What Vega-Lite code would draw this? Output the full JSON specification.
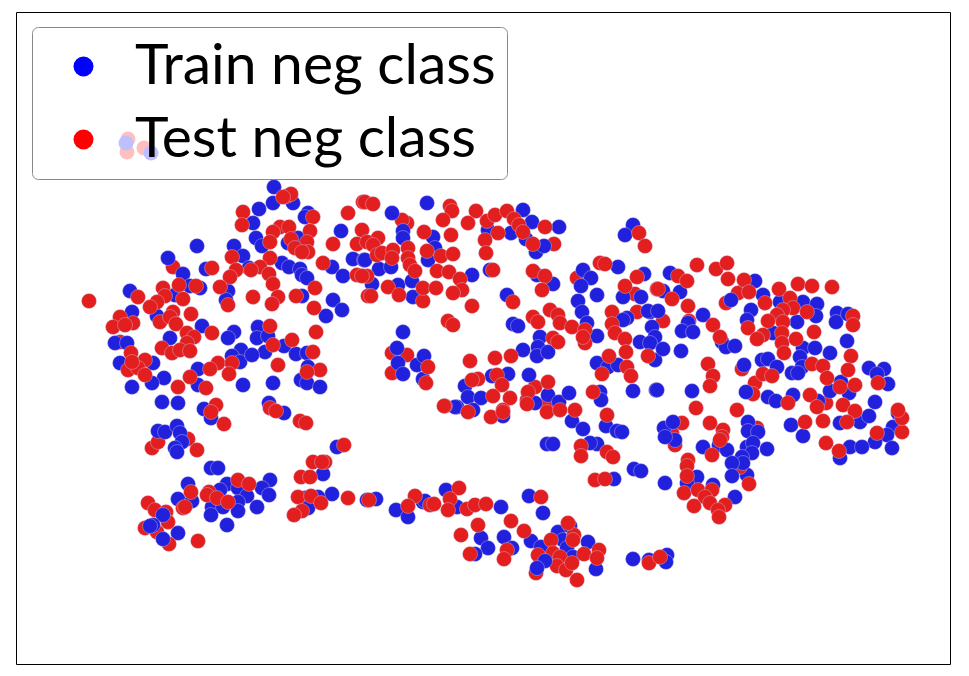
{"$schema":"https://vega.github.io/schema/vega-lite/v6.json","width":934,"height":652,"padding":{"left":16,"top":12,"right":19,"bottom":12},"autosize":"none","background":"white","view":{"stroke":"#000000","strokeWidth":1,"fill":"white"},"datasets":{"pts":[
{"x":173,"y":267,"c":"Test"},{"x":120,"y":342,"c":"Test"},{"x":663,"y":321,"c":"Test"},{"x":689,"y":321,"c":"Test"},{"x":738,"y":293,"c":"Test"},{"x":726,"y":303,"c":"Test"},{"x":742,"y":369,"c":"Test"},{"x":755,"y":383,"c":"Test"},{"x":753,"y":394,"c":"Test"},{"x":826,"y":403,"c":"Test"},{"x":672,"y":433,"c":"Test"},{"x":675,"y":445,"c":"Test"},{"x":682,"y":423,"c":"Test"},{"x":757,"y":428,"c":"Test"},{"x":723,"y":430,"c":"Test"},{"x":722,"y":437,"c":"Test"},{"x":392,"y":353,"c":"Test"},{"x":392,"y":373,"c":"Test"},{"x":407,"y":355,"c":"Test"},{"x":535,"y":387,"c":"Test"},{"x":527,"y":400,"c":"Test"},{"x":547,"y":403,"c":"Test"},{"x":407,"y":223,"c":"Test"},{"x":402,"y":220,"c":"Test"},{"x":554,"y":244,"c":"Test"},{"x":577,"y":278,"c":"Test"},{"x":635,"y":294,"c":"Test"},{"x":637,"y":312,"c":"Test"},{"x":612,"y":312,"c":"Test"},{"x":128,"y":139,"c":"Test"},{"x":127,"y":152,"c":"Test"},{"x":144,"y":148,"c":"Test"},{"x":126,"y":143,"c":"Train"},{"x":151,"y":153,"c":"Train"},
{"x":274,"y":187,"c":"Train"},{"x":273,"y":203,"c":"Train"},{"x":293,"y":203,"c":"Train"},{"x":259,"y":209,"c":"Train"},{"x":308,"y":213,"c":"Train"},{"x":305,"y":217,"c":"Train"},{"x":253,"y":223,"c":"Train"},{"x":341,"y":231,"c":"Train"},{"x":256,"y":238,"c":"Train"},{"x":262,"y":246,"c":"Train"},{"x":288,"y":243,"c":"Train"},{"x":298,"y":238,"c":"Train"},{"x":197,"y":246,"c":"Train"},{"x":234,"y":246,"c":"Train"},{"x":243,"y":256,"c":"Train"},{"x":168,"y":258,"c":"Train"},{"x":353,"y":259,"c":"Train"},{"x":364,"y":260,"c":"Train"},{"x":249,"y":268,"c":"Train"},{"x":282,"y":263,"c":"Train"},{"x":289,"y":267,"c":"Train"},{"x":300,"y":269,"c":"Train"},{"x":302,"y":275,"c":"Train"},{"x":307,"y":278,"c":"Train"},{"x":332,"y":267,"c":"Train"},{"x":343,"y":276,"c":"Train"},{"x":183,"y":274,"c":"Train"},{"x":190,"y":286,"c":"Train"},{"x":200,"y":288,"c":"Train"},{"x":206,"y":269,"c":"Train"},{"x":228,"y":291,"c":"Train"},{"x":226,"y":300,"c":"Train"},{"x":130,"y":291,"c":"Train"},{"x":175,"y":295,"c":"Train"},{"x":302,"y":296,"c":"Train"},{"x":333,"y":300,"c":"Train"},{"x":342,"y":310,"c":"Train"},{"x":326,"y":316,"c":"Train"},{"x":132,"y":312,"c":"Train"},{"x":157,"y":316,"c":"Train"},{"x":202,"y":326,"c":"Train"},{"x":170,"y":338,"c":"Train"},{"x":115,"y":343,"c":"Train"},{"x":127,"y":343,"c":"Train"},{"x":234,"y":332,"c":"Train"},{"x":228,"y":338,"c":"Train"},{"x":258,"y":327,"c":"Train"},{"x":257,"y":338,"c":"Train"},{"x":268,"y":336,"c":"Train"},{"x":265,"y":352,"c":"Train"},{"x":241,"y":350,"c":"Train"},{"x":232,"y":356,"c":"Train"},{"x":240,"y":362,"c":"Train"},{"x":252,"y":355,"c":"Train"},{"x":284,"y":346,"c":"Train"},{"x":296,"y":354,"c":"Train"},{"x":307,"y":353,"c":"Train"},{"x":120,"y":363,"c":"Train"},{"x":153,"y":363,"c":"Train"},{"x":198,"y":369,"c":"Train"},{"x":164,"y":378,"c":"Train"},{"x":152,"y":383,"c":"Train"},{"x":132,"y":387,"c":"Train"},{"x":198,"y":385,"c":"Train"},{"x":243,"y":385,"c":"Train"},{"x":273,"y":383,"c":"Train"},{"x":301,"y":380,"c":"Train"},{"x":307,"y":383,"c":"Train"},{"x":320,"y":387,"c":"Train"},{"x":308,"y":367,"c":"Train"},
{"x":162,"y":402,"c":"Train"},{"x":178,"y":403,"c":"Train"},{"x":204,"y":409,"c":"Train"},{"x":211,"y":418,"c":"Train"},{"x":269,"y":403,"c":"Train"},{"x":284,"y":413,"c":"Train"},{"x":337,"y":447,"c":"Train"},{"x":211,"y":468,"c":"Train"},{"x":218,"y":468,"c":"Train"},{"x":188,"y":484,"c":"Train"},{"x":178,"y":499,"c":"Train"},{"x":192,"y":501,"c":"Train"},{"x":227,"y":484,"c":"Train"},{"x":238,"y":488,"c":"Train"},{"x":270,"y":480,"c":"Train"},{"x":262,"y":488,"c":"Train"},{"x":269,"y":495,"c":"Train"},{"x":247,"y":496,"c":"Train"},{"x":238,"y":502,"c":"Train"},{"x":220,"y":490,"c":"Train"},{"x":212,"y":507,"c":"Train"},{"x":223,"y":507,"c":"Train"},{"x":238,"y":511,"c":"Train"},{"x":257,"y":507,"c":"Train"},{"x":211,"y":515,"c":"Train"},{"x":227,"y":525,"c":"Train"},{"x":323,"y":474,"c":"Train"},{"x":332,"y":494,"c":"Train"},{"x":305,"y":498,"c":"Train"},{"x":318,"y":497,"c":"Train"},{"x":308,"y":508,"c":"Train"},{"x":376,"y":499,"c":"Train"},{"x":367,"y":500,"c":"Train"},{"x":396,"y":510,"c":"Train"},{"x":408,"y":517,"c":"Train"},{"x":423,"y":502,"c":"Train"},{"x":178,"y":533,"c":"Train"},
{"x":427,"y":203,"c":"Train"},{"x":392,"y":213,"c":"Train"},{"x":403,"y":231,"c":"Train"},{"x":403,"y":238,"c":"Train"},{"x":433,"y":237,"c":"Train"},{"x":488,"y":230,"c":"Train"},{"x":511,"y":233,"c":"Train"},{"x":523,"y":210,"c":"Train"},{"x":532,"y":222,"c":"Train"},{"x":559,"y":227,"c":"Train"},{"x":526,"y":239,"c":"Train"},{"x":536,"y":252,"c":"Train"},{"x":544,"y":246,"c":"Train"},{"x":633,"y":225,"c":"Train"},{"x":625,"y":235,"c":"Train"},{"x":435,"y":248,"c":"Train"},{"x":428,"y":260,"c":"Train"},{"x":365,"y":260,"c":"Train"},{"x":379,"y":269,"c":"Train"},{"x":391,"y":267,"c":"Train"},{"x":372,"y":284,"c":"Train"},{"x":398,"y":285,"c":"Train"},{"x":412,"y":281,"c":"Train"},{"x":413,"y":297,"c":"Train"},{"x":472,"y":275,"c":"Train"},{"x":490,"y":270,"c":"Train"},{"x":537,"y":275,"c":"Train"},{"x":553,"y":284,"c":"Train"},{"x":583,"y":270,"c":"Train"},{"x":591,"y":278,"c":"Train"},{"x":581,"y":286,"c":"Train"},{"x":597,"y":295,"c":"Train"},{"x":578,"y":301,"c":"Train"},{"x":618,"y":267,"c":"Train"},{"x":644,"y":274,"c":"Train"},{"x":623,"y":297,"c":"Train"},{"x":641,"y":297,"c":"Train"},{"x":582,"y":312,"c":"Train"},{"x":587,"y":323,"c":"Train"},{"x":597,"y":336,"c":"Train"},{"x":627,"y":318,"c":"Train"},{"x":623,"y":320,"c":"Train"},{"x":650,"y":312,"c":"Train"},{"x":652,"y":327,"c":"Train"},{"x":655,"y":337,"c":"Train"},{"x":640,"y":342,"c":"Train"},{"x":650,"y":343,"c":"Train"},{"x":655,"y":360,"c":"Train"},{"x":540,"y":337,"c":"Train"},{"x":538,"y":347,"c":"Train"},{"x":523,"y":350,"c":"Train"},{"x":537,"y":356,"c":"Train"},{"x":548,"y":352,"c":"Train"},{"x":507,"y":295,"c":"Train"},{"x":513,"y":324,"c":"Train"},{"x":518,"y":326,"c":"Train"},{"x":403,"y":332,"c":"Train"},{"x":397,"y":348,"c":"Train"},{"x":398,"y":363,"c":"Train"},{"x":417,"y":365,"c":"Train"},{"x":424,"y":356,"c":"Train"},{"x":403,"y":374,"c":"Train"},{"x":423,"y":379,"c":"Train"},{"x":492,"y":376,"c":"Train"},{"x":508,"y":374,"c":"Train"},{"x":529,"y":375,"c":"Train"},{"x":465,"y":386,"c":"Train"},{"x":468,"y":397,"c":"Train"},{"x":481,"y":398,"c":"Train"},{"x":457,"y":407,"c":"Train"},{"x":473,"y":410,"c":"Train"},{"x":535,"y":403,"c":"Train"},{"x":548,"y":395,"c":"Train"},{"x":559,"y":402,"c":"Train"},{"x":569,"y":393,"c":"Train"},{"x":597,"y":363,"c":"Train"},{"x":608,"y":367,"c":"Train"},{"x":618,"y":365,"c":"Train"},{"x":600,"y":392,"c":"Train"},{"x":601,"y":400,"c":"Train"},{"x":633,"y":391,"c":"Train"},{"x":656,"y":390,"c":"Train"},
{"x":670,"y":273,"c":"Train"},{"x":663,"y":291,"c":"Train"},{"x":680,"y":292,"c":"Train"},{"x":648,"y":311,"c":"Train"},{"x":658,"y":311,"c":"Train"},{"x":663,"y":349,"c":"Train"},{"x":681,"y":351,"c":"Train"},{"x":703,"y":315,"c":"Train"},{"x":688,"y":323,"c":"Train"},{"x":682,"y":331,"c":"Train"},{"x":693,"y":332,"c":"Train"},{"x":755,"y":281,"c":"Train"},{"x":763,"y":295,"c":"Train"},{"x":731,"y":300,"c":"Train"},{"x":751,"y":310,"c":"Train"},{"x":747,"y":320,"c":"Train"},{"x":780,"y":302,"c":"Train"},{"x":803,"y":302,"c":"Train"},{"x":817,"y":304,"c":"Train"},{"x":797,"y":322,"c":"Train"},{"x":816,"y":316,"c":"Train"},{"x":837,"y":313,"c":"Train"},{"x":836,"y":322,"c":"Train"},{"x":848,"y":314,"c":"Train"},{"x":847,"y":341,"c":"Train"},{"x":722,"y":342,"c":"Train"},{"x":726,"y":347,"c":"Train"},{"x":735,"y":346,"c":"Train"},{"x":773,"y":333,"c":"Train"},{"x":803,"y":348,"c":"Train"},{"x":815,"y":348,"c":"Train"},{"x":830,"y":353,"c":"Train"},{"x":800,"y":357,"c":"Train"},{"x":762,"y":360,"c":"Train"},{"x":768,"y":359,"c":"Train"},{"x":777,"y":367,"c":"Train"},{"x":744,"y":365,"c":"Train"},{"x":802,"y":367,"c":"Train"},{"x":792,"y":373,"c":"Train"},{"x":798,"y":373,"c":"Train"},{"x":869,"y":368,"c":"Train"},{"x":884,"y":369,"c":"Train"},{"x":877,"y":374,"c":"Train"},{"x":888,"y":384,"c":"Train"},{"x":841,"y":382,"c":"Train"},{"x":830,"y":391,"c":"Train"},{"x":818,"y":401,"c":"Train"},{"x":849,"y":393,"c":"Train"},{"x":746,"y":392,"c":"Train"},{"x":768,"y":397,"c":"Train"},{"x":776,"y":401,"c":"Train"},{"x":793,"y":395,"c":"Train"},{"x":875,"y":402,"c":"Train"},{"x":657,"y":390,"c":"Train"},{"x":692,"y":391,"c":"Train"},{"x":791,"y":425,"c":"Train"},{"x":803,"y":436,"c":"Train"},{"x":840,"y":423,"c":"Train"},{"x":860,"y":422,"c":"Train"},{"x":869,"y":416,"c":"Train"},{"x":898,"y":413,"c":"Train"},{"x":893,"y":427,"c":"Train"},{"x":887,"y":435,"c":"Train"},{"x":875,"y":442,"c":"Train"},{"x":892,"y":448,"c":"Train"},{"x":703,"y":447,"c":"Train"},{"x":719,"y":445,"c":"Train"},{"x":727,"y":450,"c":"Train"},{"x":767,"y":449,"c":"Train"},{"x":850,"y":447,"c":"Train"},{"x":862,"y":447,"c":"Train"},{"x":840,"y":458,"c":"Train"},
{"x":455,"y":407,"c":"Train"},{"x":503,"y":416,"c":"Train"},{"x":572,"y":421,"c":"Train"},{"x":583,"y":429,"c":"Train"},{"x":606,"y":426,"c":"Train"},{"x":617,"y":431,"c":"Train"},{"x":622,"y":432,"c":"Train"},{"x":547,"y":444,"c":"Train"},{"x":553,"y":444,"c":"Train"},{"x":597,"y":444,"c":"Train"},{"x":590,"y":443,"c":"Train"},{"x":634,"y":469,"c":"Train"},{"x":641,"y":471,"c":"Train"},{"x":614,"y":479,"c":"Train"},{"x":665,"y":483,"c":"Train"},{"x":747,"y":475,"c":"Train"},{"x":735,"y":497,"c":"Train"},{"x":697,"y":477,"c":"Train"},{"x":687,"y":483,"c":"Train"},{"x":713,"y":485,"c":"Train"},{"x":529,"y":496,"c":"Train"},{"x":501,"y":507,"c":"Train"},{"x":543,"y":513,"c":"Train"},{"x":446,"y":490,"c":"Train"},{"x":425,"y":501,"c":"Train"},{"x":457,"y":507,"c":"Train"},{"x":481,"y":538,"c":"Train"},{"x":488,"y":548,"c":"Train"},{"x":504,"y":537,"c":"Train"},{"x":512,"y":548,"c":"Train"},{"x":475,"y":554,"c":"Train"},{"x":531,"y":541,"c":"Train"},{"x":541,"y":547,"c":"Train"},{"x":558,"y":532,"c":"Train"},{"x":570,"y":526,"c":"Train"},{"x":563,"y":540,"c":"Train"},{"x":567,"y":548,"c":"Train"},{"x":588,"y":542,"c":"Train"},{"x":573,"y":557,"c":"Train"},{"x":596,"y":569,"c":"Train"},{"x":633,"y":559,"c":"Train"},{"x":649,"y":560,"c":"Train"},{"x":667,"y":555,"c":"Train"},{"x":666,"y":562,"c":"Train"},
{"x":89,"y":301,"c":"Test"},{"x":287,"y":196,"c":"Test"},{"x":291,"y":194,"c":"Test"},{"x":283,"y":197,"c":"Test"},{"x":243,"y":212,"c":"Test"},{"x":242,"y":225,"c":"Test"},{"x":363,"y":202,"c":"Test"},{"x":348,"y":213,"c":"Test"},{"x":313,"y":217,"c":"Test"},{"x":280,"y":227,"c":"Test"},{"x":289,"y":227,"c":"Test"},{"x":273,"y":232,"c":"Test"},{"x":310,"y":231,"c":"Test"},{"x":270,"y":242,"c":"Test"},{"x":291,"y":239,"c":"Test"},{"x":307,"y":242,"c":"Test"},{"x":295,"y":248,"c":"Test"},{"x":308,"y":252,"c":"Test"},{"x":302,"y":252,"c":"Test"},{"x":333,"y":244,"c":"Test"},{"x":362,"y":230,"c":"Test"},{"x":357,"y":244,"c":"Test"},{"x":270,"y":258,"c":"Test"},{"x":232,"y":257,"c":"Test"},{"x":260,"y":267,"c":"Test"},{"x":212,"y":268,"c":"Test"},{"x":236,"y":270,"c":"Test"},{"x":230,"y":277,"c":"Test"},{"x":251,"y":270,"c":"Test"},{"x":269,"y":274,"c":"Test"},{"x":273,"y":284,"c":"Test"},{"x":323,"y":263,"c":"Test"},{"x":357,"y":275,"c":"Test"},{"x":367,"y":276,"c":"Test"},{"x":179,"y":285,"c":"Test"},{"x":196,"y":286,"c":"Test"},{"x":220,"y":287,"c":"Test"},{"x":315,"y":288,"c":"Test"},{"x":163,"y":288,"c":"Test"},{"x":138,"y":297,"c":"Test"},{"x":183,"y":299,"c":"Test"},{"x":165,"y":296,"c":"Test"},{"x":157,"y":302,"c":"Test"},{"x":150,"y":307,"c":"Test"},{"x":253,"y":297,"c":"Test"},{"x":278,"y":297,"c":"Test"},{"x":272,"y":304,"c":"Test"},{"x":296,"y":296,"c":"Test"},{"x":228,"y":305,"c":"Test"},{"x":314,"y":308,"c":"Test"},{"x":368,"y":296,"c":"Test"},{"x":173,"y":312,"c":"Test"},{"x":191,"y":314,"c":"Test"},{"x":120,"y":317,"c":"Test"},{"x":133,"y":323,"c":"Test"},{"x":113,"y":327,"c":"Test"},{"x":125,"y":325,"c":"Test"},{"x":160,"y":322,"c":"Test"},{"x":170,"y":317,"c":"Test"},{"x":176,"y":324,"c":"Test"},{"x":270,"y":326,"c":"Test"},{"x":187,"y":333,"c":"Test"},{"x":194,"y":337,"c":"Test"},{"x":212,"y":333,"c":"Test"},{"x":316,"y":332,"c":"Test"},{"x":187,"y":343,"c":"Test"},{"x":162,"y":348,"c":"Test"},{"x":172,"y":353,"c":"Test"},{"x":180,"y":350,"c":"Test"},{"x":190,"y":351,"c":"Test"},{"x":292,"y":340,"c":"Test"},{"x":273,"y":345,"c":"Test"},{"x":313,"y":352,"c":"Test"},{"x":131,"y":353,"c":"Test"},{"x":145,"y":360,"c":"Test"},{"x":128,"y":370,"c":"Test"},{"x":138,"y":368,"c":"Test"},{"x":145,"y":375,"c":"Test"},{"x":132,"y":362,"c":"Test"},{"x":278,"y":365,"c":"Test"},{"x":218,"y":363,"c":"Test"},{"x":210,"y":369,"c":"Test"},{"x":232,"y":363,"c":"Test"},{"x":229,"y":374,"c":"Test"},{"x":320,"y":370,"c":"Test"},{"x":307,"y":372,"c":"Test"},{"x":190,"y":377,"c":"Test"},{"x":178,"y":387,"c":"Test"},{"x":206,"y":388,"c":"Test"},
{"x":216,"y":405,"c":"Test"},{"x":211,"y":412,"c":"Test"},{"x":224,"y":424,"c":"Test"},{"x":270,"y":408,"c":"Test"},{"x":276,"y":411,"c":"Test"},{"x":300,"y":421,"c":"Test"},{"x":306,"y":423,"c":"Test"},{"x":188,"y":439,"c":"Test"},{"x":152,"y":448,"c":"Test"},{"x":158,"y":442,"c":"Test"},{"x":197,"y":450,"c":"Test"},{"x":344,"y":445,"c":"Test"},{"x":313,"y":462,"c":"Test"},{"x":325,"y":462,"c":"Test"},{"x":322,"y":462,"c":"Test"},{"x":301,"y":477,"c":"Test"},{"x":310,"y":477,"c":"Test"},{"x":238,"y":480,"c":"Test"},{"x":249,"y":484,"c":"Test"},{"x":191,"y":492,"c":"Test"},{"x":209,"y":492,"c":"Test"},{"x":207,"y":495,"c":"Test"},{"x":217,"y":498,"c":"Test"},{"x":228,"y":502,"c":"Test"},{"x":298,"y":497,"c":"Test"},{"x":311,"y":496,"c":"Test"},{"x":321,"y":503,"c":"Test"},{"x":348,"y":498,"c":"Test"},{"x":369,"y":500,"c":"Test"},{"x":148,"y":503,"c":"Test"},{"x":155,"y":510,"c":"Test"},{"x":166,"y":512,"c":"Test"},{"x":183,"y":508,"c":"Test"},{"x":185,"y":507,"c":"Test"},{"x":168,"y":522,"c":"Test"},{"x":145,"y":528,"c":"Test"},{"x":157,"y":532,"c":"Test"},{"x":169,"y":544,"c":"Test"},{"x":198,"y":541,"c":"Test"},{"x":302,"y":511,"c":"Test"},{"x":294,"y":515,"c":"Test"},{"x":415,"y":496,"c":"Test"},{"x":408,"y":506,"c":"Test"},{"x":430,"y":505,"c":"Test"},
{"x":365,"y":202,"c":"Test"},{"x":373,"y":204,"c":"Test"},{"x":450,"y":206,"c":"Test"},{"x":452,"y":211,"c":"Test"},{"x":443,"y":220,"c":"Test"},{"x":476,"y":211,"c":"Test"},{"x":468,"y":223,"c":"Test"},{"x":424,"y":232,"c":"Test"},{"x":451,"y":235,"c":"Test"},{"x":487,"y":221,"c":"Test"},{"x":495,"y":215,"c":"Test"},{"x":507,"y":211,"c":"Test"},{"x":514,"y":219,"c":"Test"},{"x":519,"y":225,"c":"Test"},{"x":523,"y":232,"c":"Test"},{"x":498,"y":233,"c":"Test"},{"x":545,"y":227,"c":"Test"},{"x":485,"y":240,"c":"Test"},{"x":486,"y":253,"c":"Test"},{"x":533,"y":244,"c":"Test"},{"x":378,"y":238,"c":"Test"},{"x":367,"y":242,"c":"Test"},{"x":373,"y":245,"c":"Test"},{"x":377,"y":255,"c":"Test"},{"x":382,"y":253,"c":"Test"},{"x":393,"y":250,"c":"Test"},{"x":392,"y":258,"c":"Test"},{"x":408,"y":248,"c":"Test"},{"x":408,"y":258,"c":"Test"},{"x":410,"y":265,"c":"Test"},{"x":415,"y":271,"c":"Test"},{"x":427,"y":251,"c":"Test"},{"x":441,"y":256,"c":"Test"},{"x":453,"y":254,"c":"Test"},{"x":437,"y":271,"c":"Test"},{"x":449,"y":272,"c":"Test"},{"x":460,"y":279,"c":"Test"},{"x":462,"y":290,"c":"Test"},{"x":453,"y":293,"c":"Test"},{"x":493,"y":270,"c":"Test"},{"x":533,"y":271,"c":"Test"},{"x":545,"y":276,"c":"Test"},{"x":542,"y":290,"c":"Test"},{"x":362,"y":276,"c":"Test"},{"x":388,"y":287,"c":"Test"},{"x":371,"y":296,"c":"Test"},{"x":399,"y":295,"c":"Test"},{"x":423,"y":301,"c":"Test"},{"x":423,"y":288,"c":"Test"},{"x":436,"y":288,"c":"Test"},{"x":513,"y":302,"c":"Test"},{"x":472,"y":306,"c":"Test"},{"x":448,"y":321,"c":"Test"},{"x":453,"y":325,"c":"Test"},{"x":533,"y":317,"c":"Test"},{"x":538,"y":322,"c":"Test"},{"x":550,"y":310,"c":"Test"},{"x":558,"y":315,"c":"Test"},{"x":560,"y":323,"c":"Test"},{"x":572,"y":327,"c":"Test"},{"x":585,"y":330,"c":"Test"},{"x":585,"y":343,"c":"Test"},{"x":583,"y":337,"c":"Test"},{"x":553,"y":338,"c":"Test"},{"x":558,"y":342,"c":"Test"},{"x":600,"y":263,"c":"Test"},{"x":605,"y":264,"c":"Test"},{"x":639,"y":233,"c":"Test"},{"x":645,"y":246,"c":"Test"},{"x":637,"y":277,"c":"Test"},{"x":625,"y":286,"c":"Test"},{"x":657,"y":289,"c":"Test"},{"x":612,"y":324,"c":"Test"},{"x":615,"y":333,"c":"Test"},{"x":625,"y":339,"c":"Test"},{"x":626,"y":352,"c":"Test"},{"x":609,"y":356,"c":"Test"},{"x":648,"y":356,"c":"Test"},{"x":627,"y":367,"c":"Test"},{"x":631,"y":376,"c":"Test"},{"x":602,"y":374,"c":"Test"},{"x":593,"y":392,"c":"Test"},{"x":511,"y":356,"c":"Test"},{"x":470,"y":361,"c":"Test"},{"x":495,"y":358,"c":"Test"},{"x":497,"y":375,"c":"Test"},{"x":502,"y":385,"c":"Test"},{"x":478,"y":379,"c":"Test"},{"x":472,"y":380,"c":"Test"},{"x":493,"y":396,"c":"Test"},{"x":510,"y":398,"c":"Test"},{"x":428,"y":367,"c":"Test"},{"x":426,"y":383,"c":"Test"},{"x":548,"y":382,"c":"Test"},{"x":528,"y":392,"c":"Test"},{"x":445,"y":406,"c":"Test"},{"x":503,"y":410,"c":"Test"},{"x":575,"y":410,"c":"Test"},
{"x":697,"y":265,"c":"Test"},{"x":716,"y":269,"c":"Test"},{"x":727,"y":263,"c":"Test"},{"x":728,"y":279,"c":"Test"},{"x":678,"y":276,"c":"Test"},{"x":687,"y":281,"c":"Test"},{"x":658,"y":289,"c":"Test"},{"x":672,"y":299,"c":"Test"},{"x":688,"y":306,"c":"Test"},{"x":713,"y":325,"c":"Test"},{"x":720,"y":337,"c":"Test"},{"x":744,"y":280,"c":"Test"},{"x":749,"y":292,"c":"Test"},{"x":765,"y":303,"c":"Test"},{"x":779,"y":289,"c":"Test"},{"x":798,"y":284,"c":"Test"},{"x":812,"y":286,"c":"Test"},{"x":832,"y":287,"c":"Test"},{"x":790,"y":298,"c":"Test"},{"x":793,"y":308,"c":"Test"},{"x":807,"y":312,"c":"Test"},{"x":783,"y":310,"c":"Test"},{"x":777,"y":315,"c":"Test"},{"x":768,"y":321,"c":"Test"},{"x":783,"y":322,"c":"Test"},{"x":748,"y":328,"c":"Test"},{"x":763,"y":335,"c":"Test"},{"x":757,"y":339,"c":"Test"},{"x":782,"y":333,"c":"Test"},{"x":782,"y":343,"c":"Test"},{"x":784,"y":353,"c":"Test"},{"x":796,"y":339,"c":"Test"},{"x":814,"y":332,"c":"Test"},{"x":853,"y":316,"c":"Test"},{"x":853,"y":325,"c":"Test"},{"x":851,"y":356,"c":"Test"},{"x":848,"y":370,"c":"Test"},{"x":855,"y":385,"c":"Test"},{"x":812,"y":364,"c":"Test"},{"x":823,"y":366,"c":"Test"},{"x":827,"y":378,"c":"Test"},{"x":708,"y":364,"c":"Test"},{"x":713,"y":376,"c":"Test"},{"x":710,"y":386,"c":"Test"},{"x":763,"y":374,"c":"Test"},{"x":772,"y":376,"c":"Test"},{"x":788,"y":403,"c":"Test"},{"x":810,"y":395,"c":"Test"},{"x":817,"y":407,"c":"Test"},{"x":843,"y":405,"c":"Test"},{"x":855,"y":411,"c":"Test"},{"x":847,"y":422,"c":"Test"},{"x":840,"y":387,"c":"Test"},{"x":878,"y":383,"c":"Test"},{"x":696,"y":408,"c":"Test"},{"x":737,"y":410,"c":"Test"},{"x":710,"y":423,"c":"Test"},{"x":805,"y":422,"c":"Test"},{"x":823,"y":421,"c":"Test"},{"x":826,"y":443,"c":"Test"},{"x":839,"y":451,"c":"Test"},{"x":877,"y":433,"c":"Test"},{"x":902,"y":432,"c":"Test"},{"x":902,"y":418,"c":"Test"},{"x":898,"y":410,"c":"Test"},{"x":712,"y":455,"c":"Test"},{"x":688,"y":460,"c":"Test"},
{"x":444,"y":406,"c":"Test"},{"x":468,"y":412,"c":"Test"},{"x":491,"y":417,"c":"Test"},{"x":503,"y":412,"c":"Test"},{"x":527,"y":404,"c":"Test"},{"x":547,"y":412,"c":"Test"},{"x":560,"y":410,"c":"Test"},{"x":607,"y":415,"c":"Test"},{"x":720,"y":440,"c":"Test"},{"x":740,"y":467,"c":"Test"},{"x":749,"y":484,"c":"Test"},{"x":687,"y":466,"c":"Test"},{"x":687,"y":476,"c":"Test"},{"x":684,"y":493,"c":"Test"},{"x":698,"y":490,"c":"Test"},{"x":712,"y":490,"c":"Test"},{"x":705,"y":497,"c":"Test"},{"x":694,"y":506,"c":"Test"},{"x":710,"y":503,"c":"Test"},{"x":725,"y":505,"c":"Test"},{"x":718,"y":510,"c":"Test"},{"x":719,"y":517,"c":"Test"},{"x":581,"y":446,"c":"Test"},{"x":581,"y":456,"c":"Test"},{"x":607,"y":452,"c":"Test"},{"x":613,"y":457,"c":"Test"},{"x":595,"y":480,"c":"Test"},{"x":605,"y":479,"c":"Test"},{"x":541,"y":497,"c":"Test"},{"x":459,"y":488,"c":"Test"},{"x":450,"y":499,"c":"Test"},{"x":434,"y":504,"c":"Test"},{"x":448,"y":510,"c":"Test"},{"x":467,"y":509,"c":"Test"},{"x":475,"y":505,"c":"Test"},{"x":486,"y":504,"c":"Test"},{"x":511,"y":521,"c":"Test"},{"x":478,"y":525,"c":"Test"},{"x":461,"y":535,"c":"Test"},{"x":524,"y":531,"c":"Test"},{"x":470,"y":554,"c":"Test"},{"x":507,"y":550,"c":"Test"},{"x":504,"y":559,"c":"Test"},{"x":551,"y":540,"c":"Test"},{"x":574,"y":535,"c":"Test"},{"x":573,"y":540,"c":"Test"},{"x":568,"y":523,"c":"Test"},{"x":538,"y":555,"c":"Test"},{"x":553,"y":553,"c":"Test"},{"x":560,"y":557,"c":"Test"},{"x":557,"y":566,"c":"Test"},{"x":566,"y":570,"c":"Test"},{"x":572,"y":563,"c":"Test"},{"x":584,"y":554,"c":"Test"},{"x":599,"y":550,"c":"Test"},{"x":597,"y":558,"c":"Test"},{"x":536,"y":573,"c":"Test"},{"x":577,"y":580,"c":"Test"},{"x":649,"y":563,"c":"Test"},{"x":660,"y":557,"c":"Test"},
{"x":545,"y":561,"c":"Train"},{"x":537,"y":568,"c":"Train"},{"x":158,"y":431,"c":"Train"},{"x":165,"y":432,"c":"Train"},{"x":177,"y":426,"c":"Train"},{"x":180,"y":433,"c":"Train"},{"x":182,"y":442,"c":"Train"},{"x":175,"y":448,"c":"Train"},{"x":177,"y":452,"c":"Train"},{"x":163,"y":515,"c":"Train"},{"x":153,"y":525,"c":"Train"},{"x":150,"y":526,"c":"Train"},{"x":163,"y":539,"c":"Train"},{"x":664,"y":428,"c":"Train"},{"x":673,"y":422,"c":"Train"},{"x":675,"y":440,"c":"Train"},{"x":665,"y":437,"c":"Train"},{"x":748,"y":422,"c":"Train"},{"x":748,"y":431,"c":"Train"},{"x":758,"y":432,"c":"Train"},{"x":747,"y":447,"c":"Train"},{"x":753,"y":443,"c":"Train"},{"x":752,"y":453,"c":"Train"},{"x":742,"y":457,"c":"Train"},{"x":743,"y":463,"c":"Train"},{"x":732,"y":463,"c":"Train"},{"x":732,"y":476,"c":"Train"}
]},"data":{"name":"pts"},"encoding":{"x":{"field":"x","type":"quantitative","scale":{"domain":[16,950],"nice":false,"zero":false},"axis":null},"y":{"field":"y","type":"quantitative","scale":{"domain":[664,12],"nice":false,"zero":false},"axis":null}},"layer":[{"transform":[{"filter":"datum.y < 170"}],"mark":{"type":"point","shape":"circle","filled":true,"size":225,"opacity":1},"encoding":{"color":{"field":"c","type":"nominal","scale":{"domain":["Train","Test"],"range":["#0000ff","#ff0000"]},"legend":{"title":null,"orient":"none","legendX":16,"legendY":15,"fillColor":"rgba(255,255,255,0.75)","strokeColor":"#888888","cornerRadius":6,"padding":11,"symbolType":"circle","symbolSize":400,"symbolOffset":12,"symbolOpacity":1,"labelFont":"Lato","labelFontSize":57,"labelColor":"#000000","labelLimit":600,"labelOffset":23,"rowPadding":15,"zindex":1,"labelExpr":"datum.label + ' neg class'"}}}},{"transform":[{"filter":"datum.y >= 170"}],"mark":{"type":"point","shape":"circle","filled":true,"size":225,"opacity":1,"stroke":"#d6cbe8","strokeWidth":0.4},"encoding":{"fill":{"field":"c","type":"nominal","scale":{"domain":["Train","Test"],"range":["#2121dd","#e21e1e"]},"legend":null}}}]}
